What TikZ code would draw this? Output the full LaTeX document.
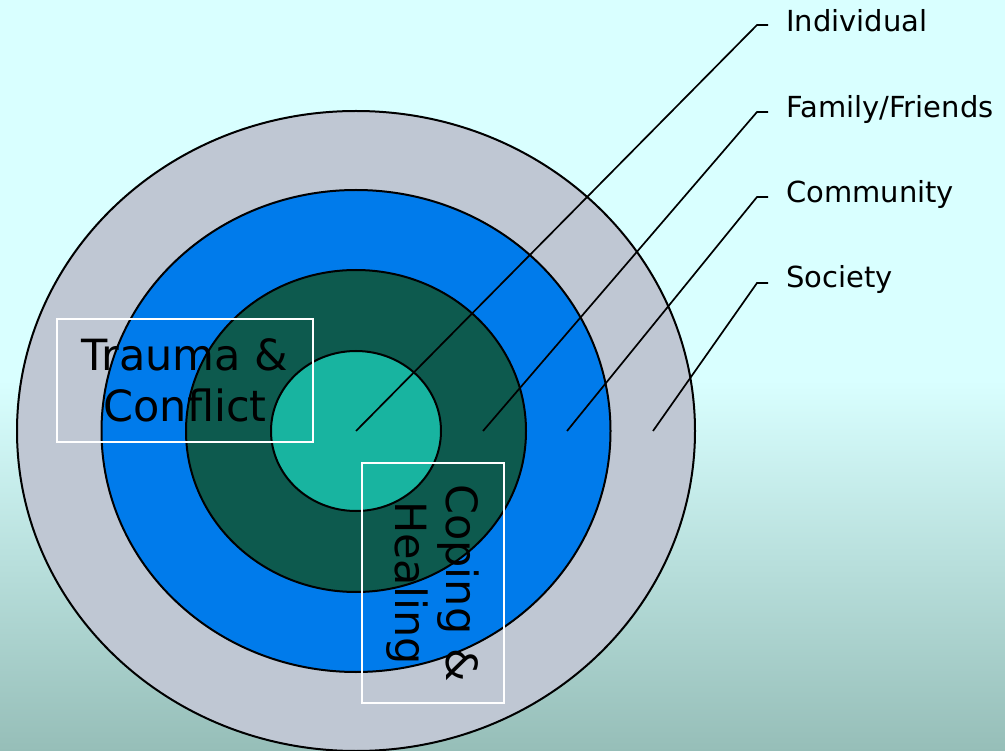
\documentclass[tikz,border=0pt]{standalone}
\usepackage{fontspec}
\setmainfont{DejaVu Sans}
\definecolor{bgtop}{RGB}{217,255,255}
\definecolor{bgbottom}{RGB}{150,190,184}
\definecolor{societygray}{RGB}{191,199,211}
\definecolor{communityblue}{RGB}{0,123,235}
\definecolor{familygreen}{RGB}{13,90,78}
\definecolor{indivteal}{RGB}{24,180,160}
\begin{document}
\begin{tikzpicture}[
    x=1pt, y=-1pt,
    ring/.style={draw=black, line width=2pt},
    leader/.style={draw=black, line width=1.7pt},
    level/.style={anchor=base west, inner sep=0pt, font=\fontsize{29}{34}\selectfont},
    textbox/.style={draw=white, line width=2pt, align=center, inner sep=0pt, font=\fontsize{43}{51}\selectfont},
]
\useasboundingbox (0,0) rectangle (1005,751);

% background
\fill[bgtop] (0,0) rectangle (1005,380);
\shade[top color=bgtop, bottom color=bgbottom] (0,380) rectangle (1005,751);

% levels (outside in)
\coordinate (c) at (356,431);
\draw[ring, fill=societygray] (c) ellipse [x radius=339, y radius=320];
\draw[ring, fill=communityblue] (c) ellipse [x radius=254.5, y radius=241];
\draw[ring, fill=familygreen] (c) ellipse [x radius=170, y radius=161];
\draw[ring, fill=indivteal] (c) ellipse [x radius=85, y radius=80];

% labels on the right
\node[level] (lind) at (786,32) {Individual};
\node[level] (lfam) at (786,118) {Family/Friends};
\node[level] (lcom) at (786,203) {Community};
\node[level] (lsoc) at (786,288) {Society};

% leader lines
\coordinate (pind) at (356,431);
\coordinate (pfam) at (483,431);
\coordinate (pcom) at (567,431);
\coordinate (psoc) at (653,431);
\coordinate (kind) at (757,25);
\coordinate (kfam) at (757,112);
\coordinate (kcom) at (757,197);
\coordinate (ksoc) at (757,283);
\coordinate (tind) at (768,25);
\coordinate (tfam) at (768,112);
\coordinate (tcom) at (768,197);
\coordinate (tsoc) at (768,283);
\draw[leader] (pind) -- (kind) -- (tind);
\draw[leader] (pfam) -- (kfam) -- (tfam);
\draw[leader] (pcom) -- (kcom) -- (tcom);
\draw[leader] (psoc) -- (ksoc) -- (tsoc);

% text boxes
\node[textbox, minimum width=256, minimum height=123] (trauma) at (185,380.5) {Trauma \&\\Conflict};
\node[textbox, rotate=-90, minimum width=240, minimum height=142] (coping) at (433,583) {Coping \&\\Healing};

\end{tikzpicture}
\end{document}
